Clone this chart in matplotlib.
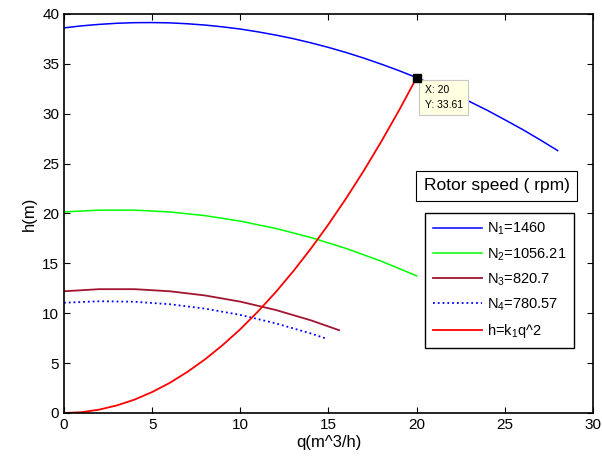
"""Pump head curves at several rotor speeds with the system curve."""

import matplotlib
matplotlib.use("Agg")
import matplotlib.pyplot as plt

plt.rcParams["font.family"] = ["Liberation Sans", "DejaVu Sans"]

# pump curves
q1 = [0, 1, 2, 3, 4, 5, 6, 7, 8, 9, 10, 11, 12, 13, 14, 15, 16, 17, 18, 19,
      20, 21, 22, 23, 24, 25, 26, 27, 28]
h1 = [38.6, 38.80, 38.95, 39.06, 39.12, 39.13, 39.10, 39.01, 38.88, 38.70,
      38.48, 38.20, 37.88, 37.52, 37.10, 36.64, 36.13, 35.57, 34.96, 34.31,
      33.61, 32.86, 32.07, 31.22, 30.34, 29.39, 28.42, 27.38, 26.3]

q2 = [0, 2, 4, 6, 8, 10, 12, 14, 16, 18, 20]
h2 = [20.15, 20.33, 20.33, 20.15, 19.78, 19.23, 18.50, 17.59, 16.49, 15.21, 13.75]

q3 = [0, 2, 4, 6, 8, 10, 12, 14, 15.6]
h3 = [12.2, 12.41, 12.41, 12.2, 11.78, 11.16, 10.33, 9.29, 8.3]

q4 = [0, 2, 4, 6, 8, 10, 12, 14, 14.8]
h4 = [11.05, 11.20, 11.15, 10.90, 10.46, 9.83, 8.99, 7.97, 7.5]

# system curve h = k1 q^2
q_sys = [0, 1, 2, 3, 4, 5, 6, 7, 8, 9, 10, 11, 12, 13, 14, 15, 16, 17, 18, 19, 20]
h_sys = [0, 0.08, 0.34, 0.76, 1.34, 2.10, 3.02, 4.12, 5.38, 6.81, 8.40, 10.17,
         12.10, 14.20, 16.47, 18.91, 21.51, 24.28, 27.22, 30.33, 33.61]

labels = [r"$\mathregular{N_1}$=1460", r"$\mathregular{N_2}$=1056.21",
          r"$\mathregular{N_3}$=820.7", r"$\mathregular{N_4}$=780.57",
          r"h=$\mathregular{k_1}$q^2"]

op_q, op_h = 20, 33.61

fig = plt.figure(figsize=(6.02, 4.63), dpi=100)
ax = fig.add_axes([0.1063, 0.108, 0.8787, 0.862])

ax.plot(q1, h1, color="#0000ff", lw=1.1, label=labels[0])
ax.plot(q2, h2, color="#00ff00", lw=1.1, label=labels[1])
ax.plot(q3, h3, color="#a2142f", lw=1.3, label=labels[2])
ax.plot(q4, h4, color="#0000ff", lw=1.3, ls=":", label=labels[3])
ax.plot(q_sys, h_sys, color="#ff0000", lw=1.3, label=labels[4])

# data cursor
ax.plot([op_q], [op_h], marker="s", color="black", ms=6, zorder=5)
ax.text(20.45, 32.85, "X: %g\nY: %.2f" % (op_q, op_h), fontsize=7.5,
        ha="left", va="top", linespacing=1.55,
        bbox=dict(boxstyle="square,pad=0.5", fc="#ffffe1", ec="#c8c8c8", lw=0.8))

ax.set_xlim(0, 30)
ax.set_ylim(0, 40)
ax.set_xticks(range(0, 31, 5))
ax.set_yticks(range(0, 41, 5))
ax.tick_params(direction="in", top=True, right=True, labelsize=11, length=4)
for s in ax.spines.values():
    s.set_linewidth(1.2)

ax.set_xlabel("q(m^3/h)", fontsize=12, labelpad=2)
ax.set_ylabel("h(m)", fontsize=12, labelpad=4)

ax.text(0.818, 0.569, "Rotor speed ( rpm)", transform=ax.transAxes, fontsize=12.5,
        ha="center", va="center",
        bbox=dict(boxstyle="square,pad=0.45", fc="white", ec="black", lw=0.8))

leg = ax.legend(loc="upper left", bbox_to_anchor=(0.682, 0.501), fontsize=10.5,
                fancybox=False, framealpha=1, edgecolor="black",
                handlelength=3.4, labelspacing=0.6, borderpad=0.55,
                handletextpad=0.3, borderaxespad=0)
leg.get_frame().set_linewidth(1.0)

fig.savefig("out.png", dpi=100)
